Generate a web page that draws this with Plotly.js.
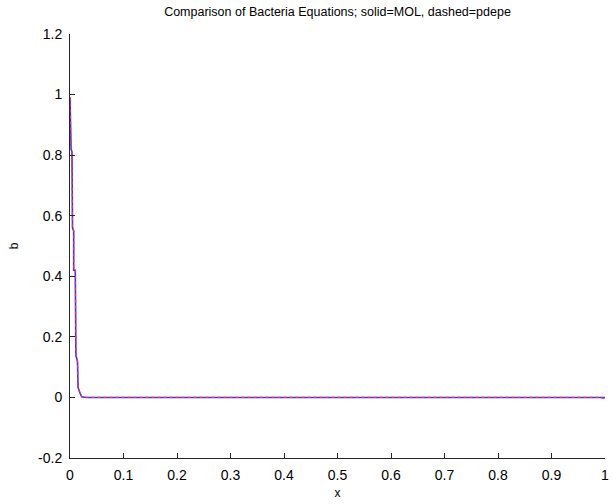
<!DOCTYPE html>
<html>
<head>
<meta charset="utf-8">
<script src="https://cdn.plot.ly/plotly-3.0.1.min.js"></script>
<style>html,body{margin:0;padding:0;background:#fff;}#chart{width:613px;height:504px;}</style>
</head>
<body>
<div id="chart"></div>
<script>
// x grid (spatial coordinate)
const xMOL = [0, 0.0013, 0.002, 0.0037, 0.0047, 0.0069, 0.0069, 0.0099, 0.0099, 0.011, 0.011, 0.014, 0.015, 0.019, 0.022, 0.03, 0.05, 0.1, 0.2, 0.3, 0.4, 0.5, 0.6, 0.7, 0.8, 0.9, 1.0];
// solid = MOL
const bMOL = [0.99, 0.92, 0.82, 0.81, 0.56, 0.55, 0.42, 0.42, 0.30, 0.286, 0.138, 0.12, 0.033, 0.013, 0.002, 0, 0, 0, 0, 0, 0, 0, 0, 0, 0, 0, 0];
// dashed = pdepe
const xPDE = [0, 0.0013, 0.002, 0.0037, 0.0047, 0.0069, 0.0069, 0.0099, 0.0099, 0.011, 0.011, 0.014, 0.015, 0.019, 0.022, 0.03, 0.05, 0.1, 0.2, 0.3, 0.4, 0.5, 0.6, 0.7, 0.8, 0.9, 0.99, 1.0];
const bPDE = [0.99, 0.92, 0.82, 0.81, 0.56, 0.55, 0.42, 0.42, 0.30, 0.286, 0.138, 0.12, 0.033, 0.013, 0.002, 0, 0, 0, 0, 0, 0, 0, 0, 0, 0, 0, 0, -0.004];

const xTickVals = [0, 0.1, 0.2, 0.3, 0.4, 0.5, 0.6, 0.7, 0.8, 0.9, 1];
const xTickText = ["0", "0.1", "0.2", "0.3", "0.4", "0.5", "0.6", "0.7", "0.8", "0.9", "1"];
const yTickVals = [-0.2, 0, 0.2, 0.4, 0.6, 0.8, 1, 1.2];
const yTickText = ["-0.2", "0", "0.2", "0.4", "0.6", "0.8", "1", "1.2"];

const font = {family: '"Liberation Sans", Arial, sans-serif', color: '#000'};

const traces = [
  {x: xMOL, y: bMOL, mode: 'lines', line: {color: '#3333ff', width: 1.6}, name: 'MOL'},
  {x: xPDE, y: bPDE, mode: 'lines', line: {color: '#ff3333', width: 1.2, dash: '3px,3px'}, name: 'pdepe'}
];

const axisCommon = {
  showline: true, linecolor: '#262626', linewidth: 1, mirror: false,
  showgrid: false, zeroline: false,
  ticks: 'inside', ticklen: 5, tickwidth: 1, tickcolor: '#262626',
  tickmode: 'array', tickfont: Object.assign({size: 14}, font)
};

const layout = {
  width: 613, height: 504,
  margin: {l: 70, r: 8, t: 34, b: 46},
  paper_bgcolor: '#fff', plot_bgcolor: '#fff',
  showlegend: false,
  font: font,
  title: {text: 'Comparison of Bacteria Equations; solid=MOL, dashed=pdepe', font: Object.assign({size: 12.5}, font), x: 0.5, xanchor: 'center', xref: 'paper', y: 0.976, yref: 'container', yanchor: 'middle'},
  xaxis: Object.assign({}, axisCommon, {
    range: [0, 1], tickvals: xTickVals, ticktext: xTickText, ticklabelstandoff: 4,
    title: {text: 'x', font: Object.assign({size: 12}, font), standoff: 6}
  }),
  yaxis: Object.assign({}, axisCommon, {
    range: [-0.2, 1.2], tickvals: yTickVals, ticktext: yTickText, ticklabelstandoff: 4,
    title: {text: 'b', font: Object.assign({size: 12}, font), standoff: 16}
  })
};

Plotly.newPlot('chart', traces, layout, {displayModeBar: false, staticPlot: true});
</script>
</body>
</html>
